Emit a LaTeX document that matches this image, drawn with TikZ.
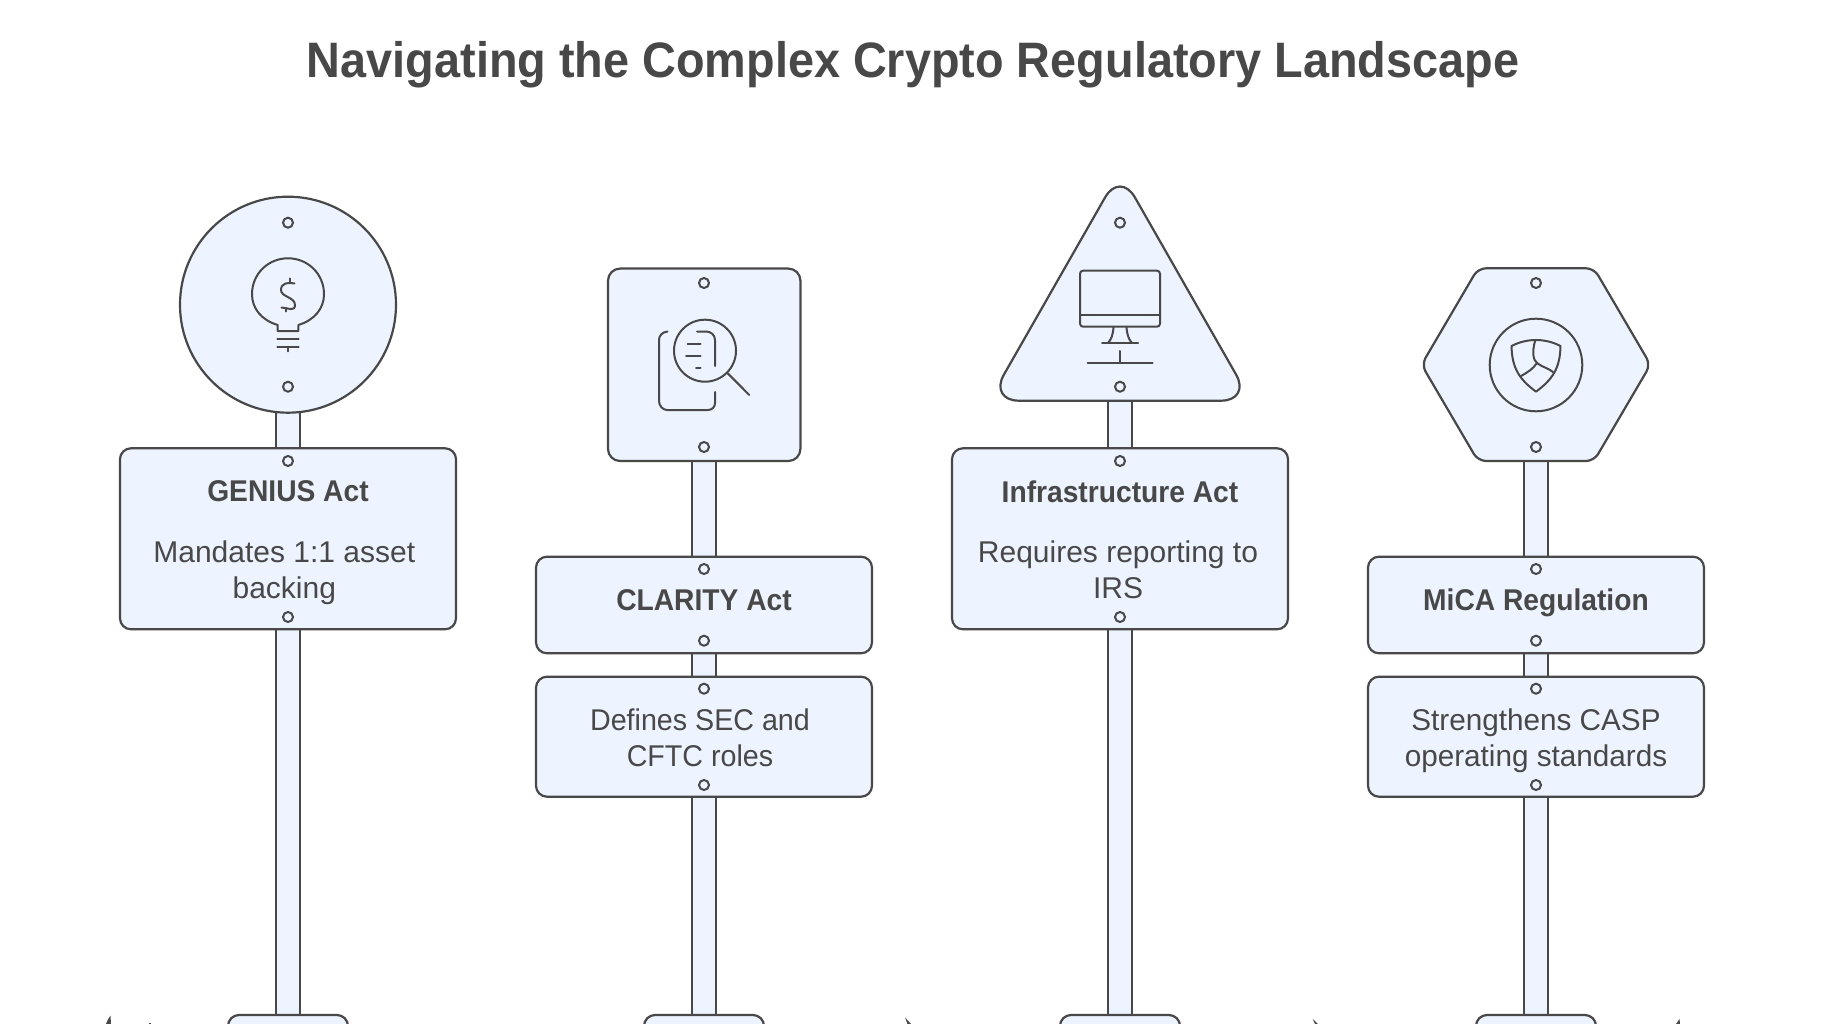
\documentclass[tikz,border=0pt]{standalone}
\usepackage{fontspec}
\setmainfont{Liberation Sans}
\newfontfamily\boldf{Liberation Sans}[FakeStretch=0.94]
\newfontfamily\narrowa{Liberation Sans}[FakeStretch=0.955]
\newfontfamily\narrowb{Liberation Sans}[FakeStretch=0.99]
\usetikzlibrary{calc}
\definecolor{ink}{HTML}{484848}
\definecolor{pale}{HTML}{EDF3FF}
\tikzset{
  x=1pt,y=-1pt,
  sign/.style={draw=ink,fill=pale,line width=2.2pt,line join=round},
  icon/.style={draw=ink,line width=2pt,line cap=round,line join=round},
  hole/.style={draw=ink,fill=pale,line width=2pt,circle,minimum size=10pt,inner sep=0pt},
  panel/.style={sign,rounded corners=11pt},
  pole/.style={sign},
  head/.style={text=ink,font=\boldf\bfseries\fontsize{30}{36}\selectfont,align=center,inner sep=0pt},
  body/.style={text=ink,font=\fontsize{30}{36}\selectfont,align=center,inner sep=0pt},
  grass/.style={fill=ink},
}
\begin{document}
\begin{tikzpicture}
\useasboundingbox (0,0) rectangle (1823,1024);
\fill[white] (0,0) rectangle (1823,1024);
\begin{scope}
\clip (0,0) rectangle (1823,1024);
% poles
\foreach \cx in {288,704,1120,1536}{
  \draw[pole] (\cx-12.3,400) rectangle (\cx+12.3,1030);
}
% bases
\foreach \cx in {288,704,1120,1536}{
  \draw[panel] (\cx-60,1015) rectangle (\cx+60,1060);
}
% grass tips
\fill[grass] (106,1024) .. controls (107,1021) and (108.5,1018) .. (110.5,1015.7) -- (111,1024) -- cycle;
\fill[grass] (148.5,1022.5) rectangle (150.5,1024);
\fill[grass] (905,1017.3) -- (911,1024) -- (907.5,1024) -- cycle;
\fill[grass] (1312.7,1019) -- (1318,1024) -- (1315,1024) -- cycle;
\fill[grass] (1679.5,1019) -- (1680,1024) -- (1676,1024) -- cycle;
\end{scope}

% GENIUS
\draw[sign] (288,304.7) circle (108);
\draw[panel] (120,448.3) rectangle (456,629.3);
\node[hole] (g1) at (288,222.7) {};
\node[hole] (g2) at (288,386.7) {};
\node[hole] (g3) at (288,461) {};
\node[hole] (g4) at (288,617) {};
\draw[icon] (298.3,325) .. controls (315,320) and (324,308) .. (324,294.3) .. controls (324,274) and (308,258.3) .. (288,258.3) .. controls (268,258.3) and (252,274) .. (252,294.3) .. controls (252,308) and (261,320) .. (277.7,325) -- (277.7,331) -- (298.3,331) -- (298.3,325);
\draw[icon] (277.3,339) -- (298.7,339) (277.3,346.7) -- (298.7,346.7) (288,346.7) -- (288,351.3);
\draw[icon] (294.5,283.5) .. controls (288,282) and (281,283) .. (281,290) .. controls (281,297) and (295,297) .. (295,305) .. controls (295,312) and (288,308) .. (281.5,307.5);
\draw[icon] (290,278.5) -- (290,283) (285.7,308) -- (285.7,311.5);
\node[head] (gt) at (288,491.5) {GENIUS Act};
\node[body] (gb) at (284.3,573) {Mandates 1:1 asset\\backing};

% CLARITY
\draw[panel,rounded corners=12pt] (608,268.6) rectangle (800.4,461);
\draw[panel] (536,556.7) rectangle (872,653.3);
\draw[panel] (536,676.7) rectangle (872,796.7);
\node[hole] (c1) at (704,283) {};
\node[hole] (c2) at (704,447) {};
\node[hole] (c3) at (704,569) {};
\node[hole] (c4) at (704,640.7) {};
\node[hole] (c5) at (704,688.7) {};
\node[hole] (c6) at (704,785) {};
\draw[icon] (705,350.7) circle (31);
\draw[icon] (727.7,373.3) -- (749.3,395);
\draw[icon] (667.5,331.5) .. controls (662,332) and (659,336) .. (659,340) -- (659,401) .. controls (659,406) and (663,410) .. (667,410) -- (708,410) .. controls (712,410) and (715,407) .. (715,403) -- (715,392);
\draw[icon] (697,331.5) -- (706,331.5) .. controls (711,331.5) and (715,335) .. (715,340) -- (715,366);
\draw[icon] (687.5,344) -- (700.5,344) (686,356) -- (700.5,356) (696,367.7) -- (700.5,367.7);
\node[head] (ct) at (704,600) {CLARITY Act};
\node[body,font=\narrowa\fontsize{30}{36}\selectfont] (cb) at (700,738) {Defines SEC and\\CFTC roles};

% Infrastructure
\draw[sign,rounded corners=30pt] (1120,171.3) -- (1251,400.7) -- (989,400.7) -- cycle;
\draw[panel] (952,448.3) rectangle (1288,629.3);
\node[hole] (i1) at (1120,222.7) {};
\node[hole] (i2) at (1120,386.7) {};
\node[hole] (i3) at (1120,461) {};
\node[hole] (i4) at (1120,617) {};
\draw[icon,rounded corners=3pt] (1080,270.7) rectangle (1160,326.7);
\draw[icon] (1080,315) -- (1160,315);
\draw[icon] (1113.5,327) .. controls (1113,335) and (1111,340) .. (1108,343) (1126.5,327) .. controls (1127,335) and (1129,340) .. (1132,343);
\draw[icon] (1102,343) -- (1138,343);
\draw[icon] (1120,351) -- (1120,362.7) (1087.5,362.7) -- (1152.5,362.7);
\node[head] (it) at (1120,492) {Infrastructure Act};
\node[body] (ib) at (1118,570) {Requires reporting to\\IRS};

% MiCA
\draw[sign,rounded corners=8pt] (1478,268.3) -- (1594,268.3) -- (1650.5,364.7) -- (1594,461) -- (1478,461) -- (1421.5,364.7) -- cycle;
\draw[panel] (1368,556.7) rectangle (1704,653.3);
\draw[panel] (1368,676.7) rectangle (1704,796.7);
\node[hole] (m1) at (1536,283) {};
\node[hole] (m2) at (1536,447) {};
\node[hole] (m3) at (1536,569) {};
\node[hole] (m4) at (1536,640.7) {};
\node[hole] (m5) at (1536,688.7) {};
\node[hole] (m6) at (1536,785) {};
\draw[icon] (1536,365) circle (46.3);
\draw[icon] (1511.5,346) .. controls (1527,338) and (1545,338) .. (1560.5,346) .. controls (1560,368) and (1553,379) .. (1536,391.7) .. controls (1519,379) and (1512,368) .. (1511.5,346) -- cycle;
\draw[icon] (1535,341) .. controls (1532,352) and (1533,360) .. (1537,363);
\draw[icon] (1537,363) .. controls (1533,369) and (1528,372) .. (1521,376);
\draw[icon] (1537,363) .. controls (1542,367) and (1548,368) .. (1553,372);
\node[head] (mt) at (1536,602.5) {MiCA Regulation};
\node[body,font=\narrowb\fontsize{30}{36}\selectfont] (mb) at (1536,740.5) {Strengthens CASP\\operating standards};

\node[text=ink,font=\boldf\bfseries\fontsize{49.8}{60}\selectfont,inner sep=0pt] (title) at (913,64.5) {Navigating the Complex Crypto Regulatory Landscape};
\end{tikzpicture}
\end{document}
